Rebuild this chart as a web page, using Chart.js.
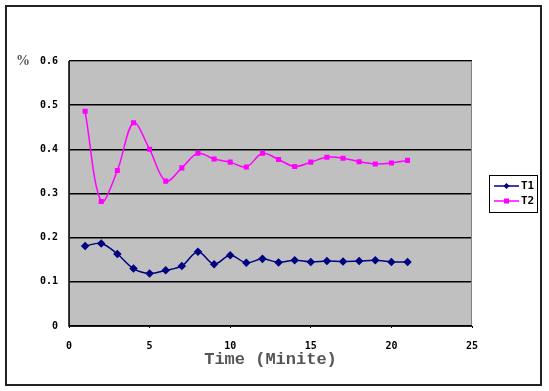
<!DOCTYPE html>
<html>
<head>
<meta charset="utf-8">
<script src="https://cdn.jsdelivr.net/npm/chart.js@4/dist/chart.umd.min.js"></script>
<style>
html,body{margin:0;padding:0;background:#fff;}
#wrap{width:549px;height:391px;position:relative;}
</style>
</head>
<body>
<div id="wrap"><canvas id="c" width="549" height="391"></canvas></div>
<script>
const timeMin = [1,2,3,4,5,6,7,8,9,10,11,12,13,14,15,16,17,18,19,20,21];
const seriesT1 = [0.181,0.187,0.163,0.130,0.119,0.126,0.136,0.168,0.140,0.160,0.143,0.152,0.144,0.149,0.145,0.147,0.146,0.147,0.149,0.145,0.145];
const seriesT2 = [0.486,0.282,0.352,0.460,0.400,0.328,0.358,0.391,0.378,0.371,0.360,0.391,0.377,0.361,0.371,0.382,0.380,0.372,0.367,0.369,0.375];
const labelT1 = 'T1';
const labelT2 = 'T2';
const xTicks = [0,5,10,15,20,25];
const yTicks = [0,0.1,0.2,0.3,0.4,0.5,0.6];
const xTitle = 'Time (Minite)';
const yUnit = '%';

const tickFont = {family:'DejaVu Sans Mono', size:10, weight:'bold'};

const decor = {
  id:'decor',
  beforeDraw(chart){
    const {ctx, chartArea:a} = chart;
    ctx.save();
    ctx.fillStyle = '#ffffff';
    ctx.fillRect(0,0,chart.width,chart.height);
    ctx.fillStyle = '#c0c0c0';
    ctx.fillRect(a.left,a.top,a.right-a.left,a.bottom-a.top);
    ctx.restore();
  },
  afterDraw(chart){
    const {ctx, chartArea:a} = chart;
    ctx.save();
    ctx.strokeStyle = '#808080';
    ctx.lineWidth = 1;
    ctx.strokeRect(a.left+0.5,a.top+0.5,a.right-a.left-1,a.bottom-a.top);
    ctx.strokeStyle = '#000';
    ctx.lineWidth = 1.5;
    ctx.beginPath();
    ctx.moveTo(a.left,a.top); ctx.lineTo(a.left,a.bottom); ctx.lineTo(a.right,a.bottom);
    ctx.stroke();
    ctx.strokeStyle = '#222';
    ctx.lineWidth = 2;
    ctx.strokeRect(6,6,535,379);
    ctx.fillStyle = '#555';
    ctx.font = 'bold 14px "Liberation Serif"';
    ctx.textAlign = 'left'; ctx.textBaseline = 'middle';
    ctx.fillText(yUnit, 16, 61);
    const lx = 489, ly = 175, lw = 48, lh = 37;
    ctx.fillStyle = '#fff';
    ctx.fillRect(lx,ly,lw,lh);
    ctx.strokeStyle = '#000'; ctx.lineWidth = 1;
    ctx.strokeRect(lx+0.5,ly+0.5,lw,lh);
    chart.data.datasets.forEach((ds,i)=>{
      const yy = ly + 11 + i*15;
      ctx.strokeStyle = ds.borderColor; ctx.lineWidth = 1.5;
      ctx.beginPath(); ctx.moveTo(lx+5,yy); ctx.lineTo(lx+30,yy); ctx.stroke();
      ctx.fillStyle = ds.borderColor;
      ctx.beginPath();
      if(ds.pointStyle==='rectRot'){
        ctx.moveTo(lx+17.5,yy-3); ctx.lineTo(lx+20.5,yy); ctx.lineTo(lx+17.5,yy+3); ctx.lineTo(lx+14.5,yy);
      } else {
        ctx.rect(lx+15,yy-2.5,5,5);
      }
      ctx.fill();
      ctx.fillStyle = '#000';
      ctx.font = 'bold 11px "DejaVu Sans Mono"';
      ctx.textAlign='left'; ctx.textBaseline='middle';
      ctx.fillText(ds.label, lx+32, yy);
    });
    ctx.restore();
  }
};

new Chart(document.getElementById('c'), {
  type:'line',
  data:{
    datasets:[
      {label:labelT1, data:timeMin.map((t,i)=>({x:t,y:seriesT1[i]})), borderColor:'#000080', backgroundColor:'#000080',
       pointStyle:'rectRot', pointRadius:3.2, borderWidth:1.5, tension:0.35},
      {label:labelT2, data:timeMin.map((t,i)=>({x:t,y:seriesT2[i]})), borderColor:'#ff00ff', backgroundColor:'#ff00ff',
       pointStyle:'rect', pointRadius:2.5, borderWidth:1.5, tension:0.35}
    ]
  },
  options:{
    responsive:false, animation:false,
    layout:{padding:{left:0,top:61,right:77,bottom:21}},
    plugins:{legend:{display:false}, tooltip:{enabled:false}},
    scales:{
      x:{type:'linear', min:0, max:25,
        afterBuildTicks(s){ s.ticks = xTicks.map(v=>({value:v})); },
        afterFit(s){ s.height = 44; },
        grid:{display:true, drawOnChartArea:false, drawTicks:true, tickLength:2, color:'#000'},
        border:{display:false},
        ticks:{font:tickFont, color:'#000', padding:12, maxRotation:0},
        title:{display:true, text:xTitle, color:'#555', font:{family:'Liberation Mono', size:17, weight:'bold'}, padding:{top:0,bottom:0}}
      },
      y:{type:'linear', min:0, max:0.6,
        afterBuildTicks(s){ s.ticks = yTicks.map(v=>({value:v})); },
        afterFit(s){ s.width = 69; },
        grid:{color:'#000', lineWidth:1.5, drawTicks:false},
        border:{display:false},
        ticks:{font:tickFont, color:'#000', padding:11, callback:v=>String(v)}
      }
    }
  },
  plugins:[decor]
});
</script>
</body>
</html>
